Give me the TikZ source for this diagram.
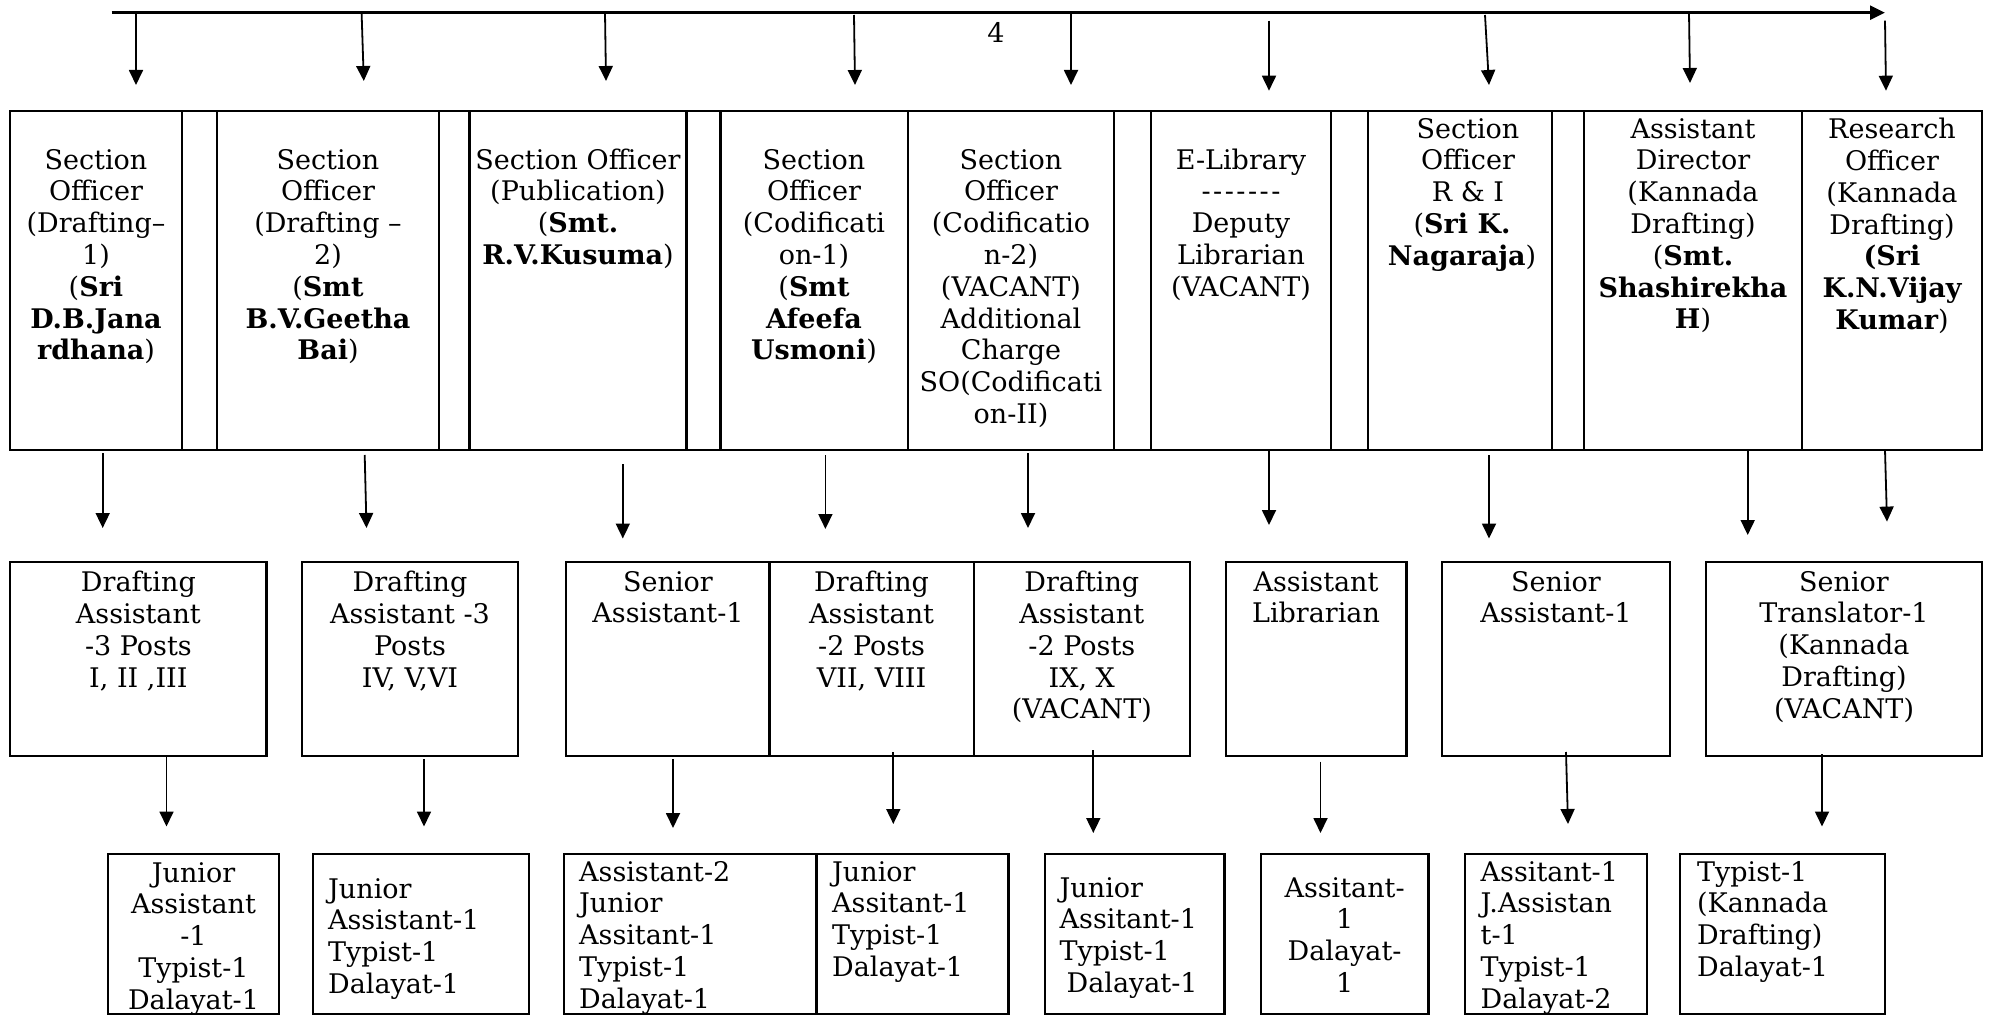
\documentclass[tikz,border=0pt]{standalone}
\usepackage{fontspec}
\setmainfont{DejaVu Serif}
\usetikzlibrary{arrows.meta}
\begin{document}
\begin{tikzpicture}[x=1pt,y=-1pt,line width=2.3pt,
  arr/.style={-{Triangle[length=15pt,width=14pt]},line width=1.8pt},
  ctext/.style={anchor=north,align=center,inner sep=0pt,font=\fontsize{27}{31.8}\selectfont},
  ltext/.style={anchor=north west,align=left,inner sep=0pt,font=\fontsize{27}{31.8}\selectfont}]
\useasboundingbox (0,0) rectangle (1995,1016);
\foreach \xa/\xb in {10.3/181.7,181.7/217,217/438.8,438.8/469.6,469.6/686.6,686.6/720.5,720.5/908,908/1114,1114/1151,1151/1331,1331/1367.8,1367.8/1551.8,1551.8/1583.7,1583.7/1802,1802/1981.7}
  \draw (\xa,110.7) rectangle (\xb,450);
\foreach \xa/\xb in {10.3/266.5,301.8/518.3,566/769.6,769.6/973.7,973.7/1190,1225.9/1406.4,1441.8/1670,1706/1981.7}
  \draw (\xa,562) rectangle (\xb,756);
\foreach \xa/\xb in {108/279,313/529,563.8/816.5,816.5/1008.5,1045/1224.5,1260.7/1428.5,1465/1647,1680/1885}
  \draw (\xa,854) rectangle (\xb,1014);
\node[font=\fontsize{27}{31.8}\selectfont] (pagenum) at (996,32) {4};
\node[ctext] (drafta) at (96,148) {Section\\Officer\\(Drafting–\\1)\\({\bfseries Sri}\\{\bfseries D.B.Jana}\\{\bfseries rdhana})};
\node[ctext] (draftb) at (328,148) {Section\\Officer\\(Drafting –\\2)\\({\bfseries Smt}\\{\bfseries B.V.Geetha}\\{\bfseries Bai})};
\node[ctext] (pub) at (578,147.5) {Section Officer\\(Publication)\\({\bfseries Smt.}\\{\bfseries R.V.Kusuma})};
\node[ctext] (codia) at (814,148) {Section\\Officer\\(Codificati\\on-1)\\({\bfseries Smt}\\{\bfseries Afeefa}\\{\bfseries Usmoni})};
\node[ctext] (codib) at (1011,148) {Section\\Officer\\(Codificatio\\n-2)\\(VACANT)\\Additional\\Charge\\SO(Codificati\\on-II)};
\node[ctext] (elib) at (1241,147.5) {E-Library\\\hbox{-}\kern2.5pt\hbox{-}\kern2.5pt\hbox{-}\kern2.5pt\hbox{-}\kern2.5pt\hbox{-}\kern2.5pt\hbox{-}\kern2.5pt\hbox{-}\\Deputy\\Librarian\\(VACANT)};
\node[ctext] (rni) at (1462,117) {\hspace*{12pt}Section\\\hspace*{12pt}Officer\\\hspace*{12pt}R \& I\\({\bfseries Sri K.}\\{\bfseries Nagaraja})};
\node[ctext] (adkd) at (1693,117) {Assistant\\Director\\(Kannada\\Drafting)\\({\bfseries Smt.}\\{\bfseries Shashirekha}\\{\bfseries H})};
\node[ctext] (rokd) at (1892,117) {Research\\Officer\\(Kannada\\Drafting)\\{\bfseries (Sri}\\{\bfseries K.N.Vijay}\\{\bfseries Kumar})};
\node[ctext] (dasta) at (138.4,570) {Drafting\\Assistant\\-3 Posts\\I, II ,III};
\node[ctext] (dastb) at (410,570) {Drafting\\Assistant -3\\Posts\\IV, V,VI};
\node[ctext] (sena) at (668,570) {Senior\\Assistant-1};
\node[ctext] (dastc) at (871.6,570) {Drafting\\Assistant\\-2 Posts\\VII, VIII};
\node[ctext] (dastd) at (1081.8,570) {Drafting\\Assistant\\-2 Posts\\IX, X\\(VACANT)};
\node[ctext] (alib) at (1316,570) {Assistant\\Librarian};
\node[ctext] (senb) at (1556,570) {Senior\\Assistant-1};
\node[ctext] (sentr) at (1844,570) {Senior\\Translator-1\\(Kannada\\Drafting)\\(VACANT)};
\node[ctext] (juna) at (193.5,861) {Junior\\Assistant\\-1\\Typist-1\\Dalayat-1};
\node[ltext] (junb) at (327,877) {Junior\\Assistant-1\\Typist-1\\Dalayat-1};
\node[ltext] (asta) at (578,860) {Assistant-2\\Junior\\Assitant-1\\Typist-1\\Dalayat-1};
\node[ltext] (junc) at (831,860) {Junior\\Assitant-1\\Typist-1\\Dalayat-1};
\node[ltext] (jund) at (1058.5,876) {Junior\\Assitant-1\\Typist-1\\\hspace*{7pt}Dalayat-1};
\node[ctext] (astb) at (1344.6,876) {Assitant-\\1\\Dalayat-\\1};
\node[ltext] (astc) at (1479.5,860) {Assitant-1\\J.Assistan\\t-1\\Typist-1\\Dalayat-2};
\node[ltext] (typ) at (1696,860) {Typist-1\\(Kannada\\Drafting)\\Dalayat-1};
\coordinate (busl) at (111.6,12.7);
\coordinate (busr) at (1885,12.7);
\draw[arr,line width=2.8pt] (busl) -- (busr);
\foreach \n/\xa/\ya/\xb/\yb in {1/136/12.7/136/85,2/361.6/12.7/363.8/81,3/605/12.7/606/81,4/854/15/855/85,5/1071/12.7/1071/85,6/1269/20.7/1269/90.7,7/1485/15/1489/85,8/1689/12.7/1690/83,9/1885/20.7/1886/90.7}{
  \coordinate (tops\n) at (\xa,\ya);
  \coordinate (tope\n) at (\xb,\yb);
  \draw[arr] (tops\n) -- (tope\n);
}
\foreach \n/\xa/\ya/\xb/\yb in {1/102.7/453/102.7/528,2/364.7/455/366.5/528,3/622.8/464/622.8/538.5,4/825.4/455/825.4/529,5/1028/453/1028/528,6/1269/451/1269/525,7/1489/455/1489/538.5,8/1747.7/451/1747.7/535,9/1885/450/1887/521.6}{
  \coordinate (mids\n) at (\xa,\ya);
  \coordinate (mide\n) at (\xb,\yb);
  \draw[arr] (mids\n) -- (mide\n);
}
\foreach \n/\xa/\ya/\xb/\yb in {1/166.5/756/166.5/826.5,2/424/759/424/826.5,3/673/759/673/828,4/893.3/752/893.3/824,5/1093.3/750/1093.3/833,6/1320.5/761.5/1320.5/833,7/1566/752/1568/824,8/1822/754/1822/826.5}{
  \coordinate (lows\n) at (\xa,\ya);
  \coordinate (lowe\n) at (\xb,\yb);
  \draw[arr] (lows\n) -- (lowe\n);
}
\end{tikzpicture}
\end{document}
